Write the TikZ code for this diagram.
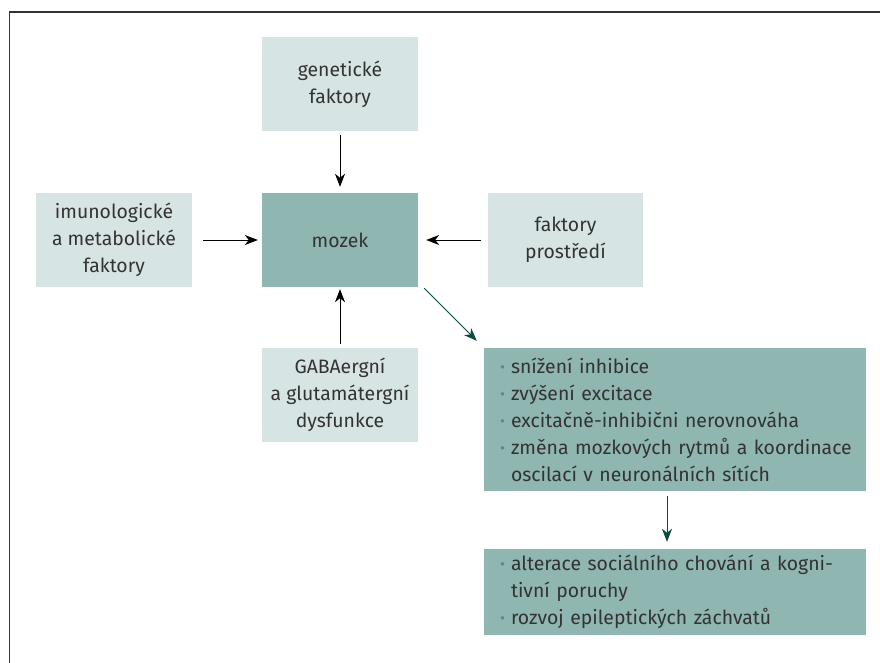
\documentclass[tikz,border=0pt]{standalone}
\usepackage{fontspec}
\setmainfont{Fira Sans}
\usetikzlibrary{arrows.meta}
\definecolor{lightbox}{HTML}{D6E5E3}
\definecolor{darkbox}{HTML}{8FB6B1}
\definecolor{txt}{HTML}{333333}
\definecolor{outarr}{HTML}{0B4A3E}
\definecolor{bulc}{HTML}{4F8F86}
\definecolor{framec}{HTML}{333333}
\newcommand\bul[1]{\mbox{\makebox[11pt][l]{\textcolor{bulc}{\fontsize{15}{15}\selectfont\raisebox{1pt}{•}}}#1}}
\newcommand\ind[1]{\mbox{\hspace*{11pt}#1}}
\tikzset{
  base/.style={rectangle, inner sep=0pt, text=txt, align=center,
    font=\fontsize{19.4}{27}\selectfont},
  lbox/.style={base, fill=lightbox, minimum width=156pt, minimum height=94pt},
  mbox/.style={base, fill=darkbox, minimum width=156pt, minimum height=94pt},
  listbox/.style={base, fill=darkbox, align=left, inner xsep=16pt, text width=350pt},
  inarr/.style={draw=black, line width=0.9pt, -{Stealth[length=13pt,width=10pt,inset=4pt]}},
  outarrow/.style={draw=outarr, line width=0.9pt, -{Stealth[length=13pt,width=10pt,inset=4pt]}},
}
\begin{document}
\begin{tikzpicture}[x=1pt,y=-1pt]
\useasboundingbox (0,0) rectangle (880,663);
\draw[framec, line width=1.3pt] (9.5,663) -- (9.5,12) -- (880,12);

\node[lbox] (gen) at (340,84.5) {genetické\\faktory};
\node[mbox] (mozek) at (340,240) {mozek};
\node[lbox] (imuno) at (114,240) {imunologické\\a metabolické\\faktory};
\node[lbox, minimum width=155pt] (prost) at (565.5,240) {faktory\\prostředí};
\node[lbox] (gaba) at (340,395) {GABAergní\\a glutamátergní\\dysfunkce};
\node[listbox, minimum height=143pt] (box1) at (675,419.5) {%
\bul{snížení inhibice}\\
\bul{zvýšení excitace}\\
\bul{excitačně-inhibični nerovnováha}\\
\bul{změna mozkových rytmů a koordinace}\\
\ind{oscilací v neuronálních sítích}};
\node[listbox, minimum height=86pt] (box2) at (675,592) {%
\bul{alterace sociálního chování a kogni-}\\
\ind{tivní poruchy}\\
\bul{rozvoj epileptických záchvatů}};

\draw[inarr] ([yshift=-3pt]gen.south) -- ([yshift=6pt]mozek.north);
\draw[inarr] ([xshift=11pt]imuno.east) -- ([xshift=-4pt]mozek.west);
\draw[inarr] ([xshift=-7pt]prost.west) -- ([xshift=8pt]mozek.east);
\draw[inarr] ([yshift=4pt]gaba.north) -- ([yshift=-2pt]mozek.south);
\draw[outarrow] ([xshift=6pt,yshift=-1pt]mozek.south east) -- ([xshift=-7pt,yshift=7pt]box1.north west);
\draw[outarrow] ([xshift=-8pt,yshift=-5pt]box1.south) -- ([xshift=-8pt,yshift=7pt]box2.north);
\end{tikzpicture}
\end{document}
